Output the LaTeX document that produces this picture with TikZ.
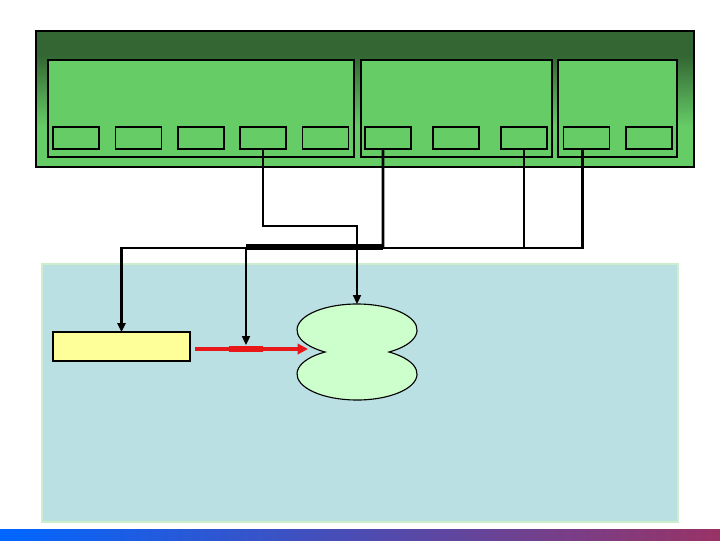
\documentclass[tikz,border=0pt]{standalone}
\usepackage{tikz}
\usetikzlibrary{arrows.meta}
\usetikzlibrary{positioning}
\pgfdeclarelayer{backlayer}
\pgfdeclarelayer{nodelayer}
\pgfdeclarelayer{edgelayer}
\pgfsetlayers{backlayer,edgelayer,nodelayer,main}
\definecolor{dgreen}{HTML}{336633}
\definecolor{lgreen}{HTML}{66CC66}
\definecolor{pblue}{HTML}{BBE0E3}
\definecolor{pmint}{HTML}{CCEECC}
\definecolor{pyellow}{HTML}{FFFF99}
\definecolor{blobgreen}{HTML}{CCFFCC}
\definecolor{wirered}{HTML}{E81818}
\definecolor{barblue}{HTML}{0066FF}
\definecolor{barmid}{HTML}{7050C0}
\definecolor{barplum}{HTML}{993366}
\pgfdeclareverticalshading{rackshade}{100bp}{color(0bp)=(lgreen); color(40bp)=(lgreen); color(66bp)=(dgreen); color(100bp)=(dgreen)}
\tikzset{nothing/.style={inner sep=0pt, outer sep=0pt}}
\tikzset{slot/.style={draw, fill=lgreen, rectangle, inner sep=0pt, outer sep=0pt, line width=1pt, minimum width=1.15cm, minimum height=0.55cm}}
\tikzset{card/.style={draw, fill=lgreen, line width=1pt}}
\tikzset{store/.style={draw, fill=pyellow, rectangle, inner sep=0pt, outer sep=0pt, line width=1.6pt, minimum width=3.425cm, minimum height=0.725cm}}
\tikzset{lobe/.style={nothing, minimum width=3cm, minimum height=2.4cm}}
\tikzset{wire/.style={line width=2pt}}
\tikzset{tip/.style={-{Triangle[length=0.22cm,width=0.2cm]}}}
\tikzset{redtip/.style={-{Triangle[length=0.26cm,width=0.26cm]}}}

\begin{document}
\begin{tikzpicture}[x=0.025cm, y=-0.025cm]
	\useasboundingbox (0, 0) rectangle (720, 540);
	\begin{pgfonlayer}{backlayer}
		\shade [shading=rackshade, draw=black, line width=1pt] (36, 31) rectangle (694, 167);
		\draw [style=card] (48, 60) rectangle (354, 157);
		\draw [style=card] (361, 60) rectangle (552, 157);
		\draw [style=card] (558, 60) rectangle (677, 157);
		\draw [fill=pblue, draw=pmint, line width=1.6pt] (42, 264) rectangle (678, 522);
		\shade [left color=barblue, middle color=barmid, right color=barplum] (0, 529) rectangle (720, 540);
	\end{pgfonlayer}
	\begin{pgfonlayer}{nodelayer}
		\node [style=slot] (0) at (76, 138) {};
		\node [style=slot] (1) at (138.5, 138) {};
		\node [style=slot] (2) at (201, 138) {};
		\node [style=slot] (3) at (263, 138) {};
		\node [style=slot] (4) at (325.5, 138) {};
		\node [style=slot] (5) at (388, 138) {};
		\node [style=slot] (6) at (456, 138) {};
		\node [style=slot] (7) at (524, 138) {};
		\node [style=slot] (8) at (586.5, 138) {};
		\node [style=slot] (9) at (649, 138) {};
		\node [style=store] (10) at (121.5, 346.5) {};
		\draw [fill=blobgreen, line width=0.8pt] (389, 352)
			arc [start angle=-57.8, end angle=237.8, x radius=1.5cm, y radius=0.65cm]
			arc [start angle=122.2, end angle=417.8, x radius=1.5cm, y radius=0.65cm] -- cycle;
		\node [style=lobe] (11) at (357, 352) {};
		\coordinate (12) at (246, 247);
		\coordinate (13) at (383, 247);
		\coordinate (14) at (246, 345);
		\coordinate (15) at (195, 349);
		\coordinate (16) at (308, 349);
	\end{pgfonlayer}
	\begin{pgfonlayer}{edgelayer}
		\draw [tip, line width=1.1pt] (3.south) -- ++(0, 77) -| (11.north);
		\draw [style=wire] ([xshift=-0.125cm]5.south) -- (13);
		\draw [line width=3.6pt] (12) -- (13);
		\draw [style=wire] (7.south) -- ++(0, 99);
		\draw [style=wire, tip] ([xshift=-0.11cm]8.south) -- ++(0, 99) -| (10.north);
		\draw [tip, line width=1.1pt] (12) -- (14);
		\draw [wirered, line width=2.2pt, redtip] (15) -- (16);
		\draw [wirered, line width=4.2pt] (229, 349) -- (263, 349);
	\end{pgfonlayer}
\end{tikzpicture}
\end{document}
